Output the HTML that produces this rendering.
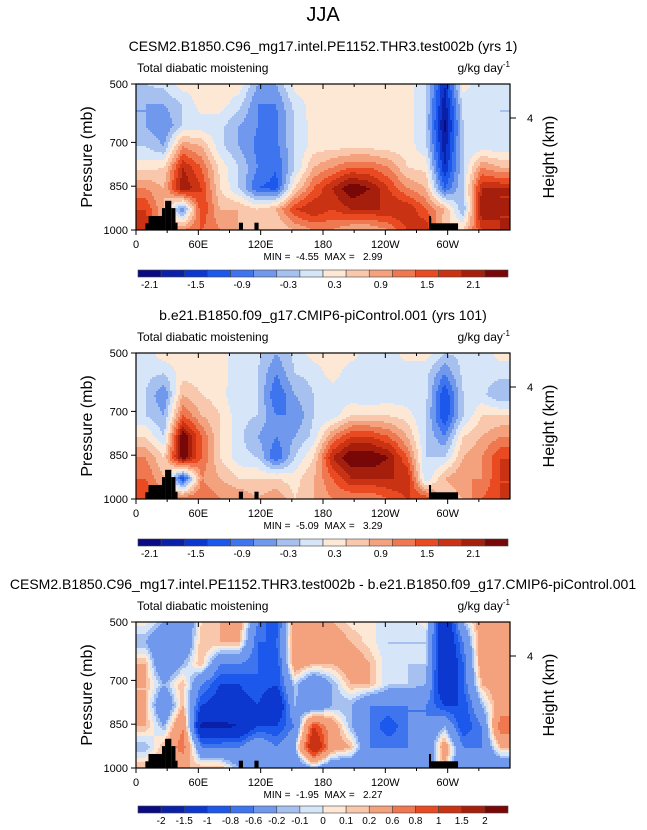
<!DOCTYPE html>
<html><head><meta charset="utf-8"><style>
html,body{margin:0;padding:0;background:#fff}
svg{display:block;font-family:"Liberation Sans",Arial,sans-serif}
</style></head><body>
<svg id="chart" width="647" height="830" viewBox="0 0 647 830" xmlns="http://www.w3.org/2000/svg">
<text x="323" y="21" font-size="20" text-anchor="middle">JJA</text>
<g id="panels"></g>
</svg>
<script>
// ---- data ----
const lonCenters=[9,27,45,63,81,99,117,135,153,171,189,207,225,243,261,279,297,315,333,351];
const levels=[500,571,643,714,786,857,929,1000];
const p1=[
[-0.3,-0.2,0.15,0.15,0.15,0.2,-0.6,-0.6,0.15,0.15,0.15,0.15,0.15,0.15,0.15,-0.2,-1.8,0.15,-0.2,-0.2],
[-0.6,-0.6,-0.3,0.15,0.15,-0.2,-0.9,-0.9,-0.2,0.15,0.15,0.15,0.15,0.15,0.15,-0.3,-2.0,-0.2,-0.2,-0.3],
[-0.6,-0.9,-0.3,-0.2,-0.2,-0.6,-0.9,-1.0,-0.3,0.15,0.15,0.15,0.15,0.15,0.15,-0.3,-2.2,-0.3,-0.2,-0.3],
[-0.3,-0.6,0.9,0.6,-0.2,-0.6,-1.0,-1.0,-0.3,0.15,0.2,0.2,0.2,0.15,0.15,-0.2,-2.0,-0.3,-0.2,-0.2],
[0.2,0.3,1.8,1.2,0.2,-0.3,-0.9,-1.2,-0.3,0.6,0.9,1.2,1.2,0.9,0.3,0.2,-1.8,-0.3,0.9,0.6],
[0.9,0.6,2.1,1.5,0.3,-0.3,-1.2,-1.3,0.3,1.2,1.8,2.4,2.1,1.5,0.9,0.6,-1.2,-0.3,1.8,1.8],
[1.5,0.6,-0.9,1.5,0.6,0.6,0.3,0.6,1.5,1.8,1.5,1.8,1.8,1.8,1.8,1.2,0.6,-0.6,2.1,1.8],
[1.8,0.6,0.9,1.2,0.9,0.6,0.6,0.3,0.6,0.9,0.9,0.6,0.6,0.9,1.5,1.8,0.3,0.3,1.5,1.8]];
const p2=[
[-0.2,0.2,0.2,0.15,0.15,-0.2,-0.2,-0.6,-0.2,0.15,0.15,0.15,-0.2,-0.2,0.15,0.15,-0.3,-0.2,-0.2,0.15],
[-0.2,-0.3,0.15,0.15,0.15,-0.2,-0.3,-0.9,-0.3,-0.2,0.15,-0.2,-0.2,-0.2,-0.2,-0.2,-0.9,-0.2,-0.2,-0.2],
[-0.3,-0.9,0.6,0.3,0.15,-0.3,-0.3,-1.2,-0.6,-0.3,-0.2,-0.2,-0.3,-0.2,-0.2,-0.2,-1.5,-0.3,-0.2,-0.6],
[-0.3,-0.6,1.2,0.6,0.3,-0.2,-0.3,-0.9,-0.9,-0.3,-0.2,0.3,0.3,0.3,0.15,-0.3,-1.5,-0.3,0.3,0.3],
[0.3,-0.3,2.4,1.2,0.3,-0.2,-0.6,-0.9,-0.6,-0.2,0.9,1.5,1.5,1.2,0.6,-0.3,-0.9,0.3,0.6,0.9],
[0.9,0.3,2.4,1.2,0.3,-0.2,-0.3,-1.2,-0.3,0.3,1.8,2.4,2.4,2.1,1.2,-0.3,-0.3,0.6,0.9,1.5],
[1.2,0.6,-1.5,0.9,0.6,0.3,0.3,0.3,0.15,0.6,1.2,1.8,1.8,1.8,1.8,-0.3,0.6,0.9,0.9,1.5],
[1.5,0.9,1.2,1.2,0.9,0.9,0.6,0.9,0.3,0.6,0.9,0.9,0.9,1.2,1.5,1.5,0.3,0.6,1.2,1.5]];
const p3=[
[0.05,-0.2,-0.6,0.1,0.2,0.4,-0.6,-1.0,0.4,0.4,0.2,0.05,0.05,-0.1,-0.1,0.05,-1.5,-0.2,0.4,0.4],
[-0.2,-0.6,-0.6,0.2,0.2,0.2,-0.8,-0.8,0.4,0.2,0.4,0.2,0.05,-0.1,-0.1,-0.1,-1.5,-0.6,0.4,0.4],
[0.2,-0.6,-0.2,0.2,-0.6,-0.6,-0.8,-1.0,0.4,0.2,0.2,0.4,0.2,-0.1,-0.1,-0.1,-1.5,-0.8,0.4,0.4],
[0.2,-0.2,0.2,-0.6,-1.0,-1.0,-0.8,-1.0,-0.1,-0.6,-0.2,0.2,0.2,-0.1,-0.1,-0.2,-1.5,-0.8,0.2,0.4],
[0.2,-0.6,0.2,-1.0,-1.2,-1.2,-1.0,-1.5,-0.2,-0.6,-0.2,-0.2,-0.6,-0.6,-0.6,-0.6,-1.0,-1.0,-0.2,0.4],
[0.2,-0.2,0.6,-1.6,-1.6,-1.5,-1.0,-1.0,-0.6,1.0,0.4,-0.2,-0.6,-1.0,-0.6,-0.6,-0.2,-1.0,-0.6,0.8],
[-0.2,0.2,0.8,-0.6,-0.6,-0.6,-0.2,-0.6,-0.2,1.5,0.4,0.2,-0.6,-0.6,-0.6,-0.6,0.4,-0.6,-0.6,0.2],
[0.2,0.4,0.2,0.2,0.2,-0.2,-0.2,-0.6,-0.6,-0.2,-0.6,-0.6,-0.6,-0.2,-0.6,-0.6,0.2,-0.6,-0.6,-0.6]];
const thresholdsA=[-2.1,-1.8,-1.5,-1.2,-0.9,-0.6,-0.3,0,0.3,0.6,0.9,1.2,1.5,1.8,2.1];
const thresholdsB=[-2,-1.5,-1,-0.8,-0.6,-0.2,-0.1,0,0.1,0.2,0.6,0.8,1,1.5,2];
const cbLabelsA=["-2.1","-1.5","-0.9","-0.3","0.3","0.9","1.5","2.1"];
const cbLabelsB=["-2","-1.5","-1","-0.8","-0.6","-0.2","-0.1","0","0.1","0.2","0.6","0.8","1","1.5","2"];
const terrLon0=[9,12,25,28,34,38,99,114,282,284];
const terrLon1=[12,25,28,34,38,40,103,118,284,310];
const terrP=[977,952,925,900,925,975,975,975,952,977];
const lonTicks=[0,60,120,180,240,300];
const lonTickLabels=["0","60E","120E","180","120W","60W"];
const presTicks=[500,700,850,1000];
const titles=["CESM2.B1850.C96_mg17.intel.PE1152.THR3.test002b (yrs 1)","b.e21.B1850.f09_g17.CMIP6-piControl.001 (yrs 101)","CESM2.B1850.C96_mg17.intel.PE1152.THR3.test002b - b.e21.B1850.f09_g17.CMIP6-piControl.001"];
const minMax=["MIN =  -4.55  MAX =   2.99","MIN =  -5.09  MAX =   3.29","MIN =  -1.95  MAX =   2.27"];
const palette=["#0a0a82","#0b20a8","#0c38d0","#1c58ec","#3e75ef","#7098ec","#a6c1f0","#d6e6f8","#fde7d5","#f9c8ac","#f4a17d","#ef7851","#e94a22","#c93213","#a51f0c","#780707"];
// ---- drawing ----
const NS="http://www.w3.org/2000/svg";
const root=document.getElementById('panels');
const X0=136,X1=510,H=146,tops=[84,353,622];
function mk(tag,attrs,parent){const e=document.createElementNS(NS,tag);for(const k in attrs)e.setAttribute(k,attrs[k]);parent.appendChild(e);return e;}
function xs(lon){return X0+(lon/360)*(X1-X0);}
function ys(p,top){return top+(p-500)/500*H;}
function interp(grid,lon,p){
  let c=(lon-9)/18;c=Math.max(0,Math.min(19,c));const c0=Math.min(18,Math.floor(c)),fc=c-c0;
  let r=0;for(let i=0;i<levels.length-1;i++){if(p>=levels[i])r=i;}
  const fr=Math.max(0,Math.min(1,(p-levels[r])/(levels[r+1]-levels[r])));
  const a=grid[r][c0]*(1-fc)+grid[r][c0+1]*fc,b=grid[r+1][c0]*(1-fc)+grid[r+1][c0+1]*fc;
  return a*(1-fr)+b*fr;}
function bin(v,th){let k=0;for(const t of th){if(v>=t)k++;}return k;}
const grids=[p1,p2,p3];
grids.forEach((grid,pi)=>{
  const top=tops[pi],th=pi<2?thresholdsA:thresholdsB;
  const g=mk('g',{},root);
  
  
  const t=mk('text',{x:323,y:top-33,'font-size':14,'text-anchor':'middle'},g);t.textContent=titles[pi];
  
  const l=mk('text',{x:137,y:top-12,'font-size':12},g);l.textContent="Total diabatic moistening";
  
  const u=mk('text',{x:510,y:top-12,'font-size':12,'text-anchor':'end'},g);u.innerHTML='g/kg day<tspan dy="-5" font-size="8">-1</tspan>';
  
  const field=mk('g',{},g);
  
  const step=2,nx=Math.ceil((X1-X0)/step),ny=Math.ceil(H/step);
  for(let j=0;j<ny;j++){
    const py=top+j*step,p=500+(j+0.5)*step/H*500;
    let run=-1,start=0;
    for(let i=0;i<=nx;i++){
      let b=-2;
      if(i<nx){const lon=(i+0.5)*step/(X1-X0)*360;b=bin(interp(grid,lon,p),th);}
      if(b!==run){
        if(run>=0){const r=mk('rect',{x:X0+start*step,y:py,width:Math.min((i-start)*step,X1-X0-start*step),height:Math.min(step+0.5,top+H-py),fill:palette[run]},field);
          }
        run=b;start=i;}
    }
  }
  for(let k=0;k<terrP.length;k++){
    const y=ys(terrP[k],top);
    const r=mk('rect',{x:xs(terrLon0[k]),y:y,width:xs(terrLon1[k])-xs(terrLon0[k]),height:top+H-y,fill:'#000'},g);
    }
  const fr=mk('rect',{x:X0,y:top,width:X1-X0,height:H,fill:'none',stroke:'#000','stroke-width':1.2},g);
  
  for(let lon=0;lon<360;lon+=30){
    const x=xs(lon),maj=lon%60===0;
    mk('line',{x1:x,x2:x,y1:top+H,y2:top+H+(maj?5:3),stroke:'#000'},g);
    mk('line',{x1:x,x2:x,y1:top,y2:top+(maj?5:3),stroke:'#000'},g);}
  lonTicks.forEach((lon,k)=>{const tx=mk('text',{x:xs(lon),y:top+H+18,'font-size':11,'text-anchor':'middle'},g);tx.textContent=lonTickLabels[k];
    });
  presTicks.forEach(p=>{const y=ys(p,top);mk('line',{x1:X0-5,x2:X0,y1:y,y2:y,stroke:'#000'},g);
    const tx=mk('text',{x:X0-8,y:y+4,'font-size':11,'text-anchor':'end'},g);tx.textContent=p;
    });
  mk('line',{x1:X1,x2:X1+6,y1:top+34,y2:top+34,stroke:'#000'},g);
  const h4=mk('text',{x:527,y:top+38,'font-size':11},g);h4.textContent="4";
  
  const yl=mk('text',{x:0,y:0,'font-size':16,'text-anchor':'middle',transform:`translate(92,${top+H/2}) rotate(-90)`},g);yl.textContent="Pressure (mb)";
  
  const yr=mk('text',{x:0,y:0,'font-size':16,'text-anchor':'middle',transform:`translate(554,${top+H/2}) rotate(-90)`},g);yr.textContent="Height (km)";
  
  const mm=mk('text',{x:323,y:top+H+30,'font-size':10,'text-anchor':'middle','xml:space':'preserve',style:'white-space:pre'},g);mm.textContent=minMax[pi];
  
  const cy=top+H+40-(pi==2?2:0),cbx=138,cw=(508-138)/16;
  const cb=mk('g',{},g);
  palette.forEach((c,k)=>{const r=mk('rect',{x:cbx+k*cw,y:cy,width:cw,height:7,fill:c,stroke:'#444','stroke-width':0.6},cb);
    });
  if(pi<2){cbLabelsA.forEach((s,k)=>{const tx=mk('text',{x:cbx+(2*k+0.5)*cw,y:cy+18,'font-size':10,'text-anchor':'middle'},cb);tx.textContent=s;
    });}
  else{cbLabelsB.forEach((s,k)=>{const tx=mk('text',{x:cbx+(k+1)*cw,y:cy+18,'font-size':10,'text-anchor':'middle'},cb);tx.textContent=s;
    });}
});
</script>
</body></html>
